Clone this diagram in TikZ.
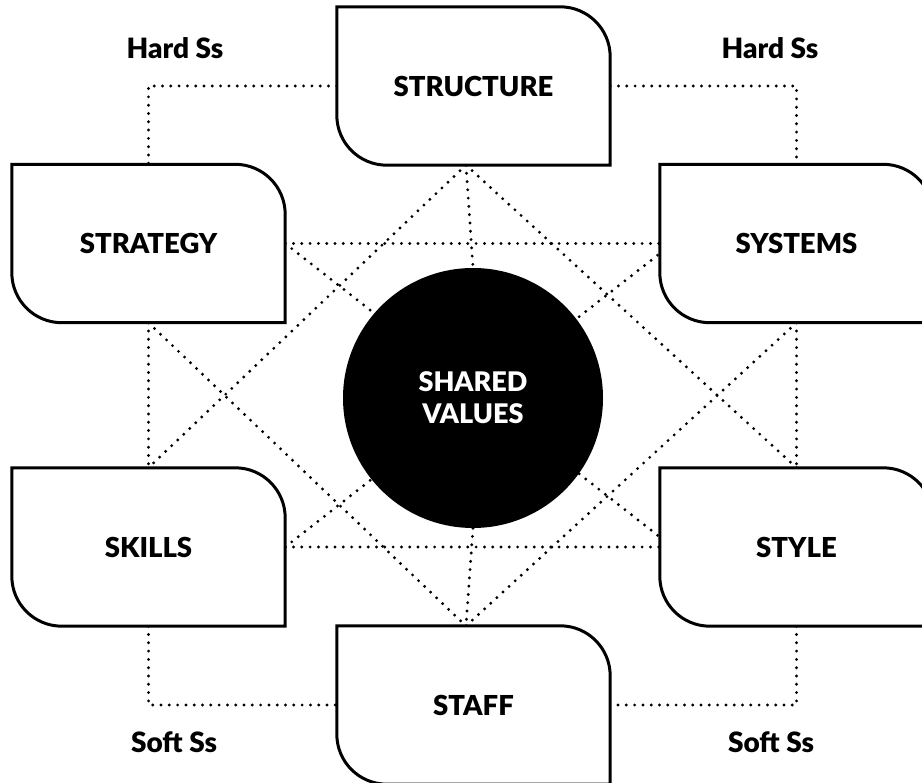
\documentclass[tikz,border=0pt]{standalone}
\usepackage{fontspec}
\setmainfont{Lato}[BoldFont={Lato Black}]
\usepackage{tikz}
\usetikzlibrary{backgrounds}

\tikzset{
	sbox/.style={minimum width=273pt, minimum height=158pt, inner sep=0pt, font=\fontsize{27.5}{30}\selectfont\bfseries},
	tag/.style={font=\fontsize{28}{30}\selectfont\bfseries},
	dots/.style={line width=3.2pt, line cap=round, dash pattern=on 0pt off 8.3pt},
	leafline/.style={line width=3pt, fill=white}
}
% box with the top right and bottom left corners rounded
\newcommand{\leaf}[1]{\draw[leafline] (#1.north west) -- ([xshift=-50pt]#1.north east) arc[start angle=90, end angle=0, radius=50pt] -- (#1.south east) -- ([xshift=50pt]#1.south west) arc[start angle=270, end angle=180, radius=50pt] -- cycle;}

\begin{document}
\begin{tikzpicture}[x=1pt, y=-1pt]
\useasboundingbox (0,0) rectangle (922,783);
\clip (0,0) rectangle (922,783);

\path (473.5,86) node[sbox] (structure) {STRUCTURE}
		(148.5,243.5) node[sbox] (strategy) {STRATEGY}
		(796.5,243.5) node[sbox] (systems) {SYSTEMS}
		(148.5,547) node[sbox] (skills) {SKILLS}
		(796.5,547) node[sbox] (style) {STYLE}
		(473.5,705) node[sbox] (staff) {STAFF}
		;
\node[circle, fill=black, minimum size=260pt, text=white, align=center, font=\fontsize{27}{32}\selectfont\bfseries] (values) at (473,398) {SHARED\\VALUES};

\node[tag] (hardl) at (175,48) {Hard Ss};
\node[tag] (hardr) at (770,48) {Hard Ss};
\node[tag] (softl) at (174,742) {Soft Ss};
\node[tag] (softr) at (771,742) {Soft Ss};

\coordinate (hubtop) at (466,165);
\coordinate (hubbot) at (466,626);

\begin{scope}[on background layer]
\draw[dots] (structure.west) -| (strategy.north);
\draw[dots] (structure.east) -| (systems.north);
\draw[dots] (strategy.south) -- (skills.north);
\draw[dots] (systems.south) -- (style.north);
\draw[dots] (skills.south) |- (staff.west);
\draw[dots] (style.south) |- (staff.east);
\draw[dots] (strategy.east) -- (systems.west);
\draw[dots] (skills.east) -- (style.west);
\draw[dots] (hubtop) -- (values.north);
\draw[dots] (values.south) -- (hubbot);
\draw[dots] (hubtop) -- (skills.north);
\draw[dots] (hubtop) -- (style.north);
\draw[dots] (strategy.south) -- (hubbot);
\draw[dots] (systems.south) -- (hubbot);
\draw[dots] (strategy.east) -- ([yshift=10pt]style.west);
\draw[dots] (skills.east) -- ([yshift=-10pt]systems.west);
\leaf{structure}
\leaf{strategy}
\leaf{systems}
\leaf{skills}
\leaf{style}
\leaf{staff}
\end{scope}
\end{tikzpicture}
\end{document}
